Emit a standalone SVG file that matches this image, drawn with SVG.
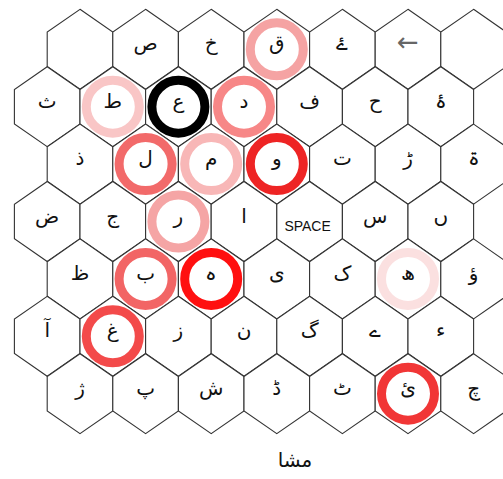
<svg xmlns="http://www.w3.org/2000/svg" xmlns:xlink="http://www.w3.org/1999/xlink" width="503" height="479" viewBox="0 0 503 479">
<style>
.hex{fill:#fff;stroke:#333;stroke-width:1.1}
.ring{fill:none;stroke-width:9}
.t{font-family:"DejaVu Sans",sans-serif;font-size:20px;fill:#111;text-anchor:middle}
.sp{font-family:"Liberation Sans",Arial,sans-serif;font-size:14px;fill:#111;text-anchor:middle}
.arr{font-family:"DejaVu Sans",sans-serif;font-size:26px;fill:#666;text-anchor:middle}
</style>
<defs>
<path id="hex" class="hex" d="M0,-40 L32.8,-17.2 L32.8,17.2 L0,40 L-32.8,17.2 L-32.8,-17.2 Z"/>
</defs>
<rect width="503" height="479" fill="#fff"/>
<!-- row 0 -->
<g id="n00" transform="translate(80,49.3)"><use href="#hex"/></g>
<g id="n01" transform="translate(145.6,49.3)"><use href="#hex"/><text class="t" y="1">ص</text></g>
<g id="n02" transform="translate(211.2,49.3)"><use href="#hex"/><text class="t" y="1">خ</text></g>
<g id="n03" transform="translate(276.8,49.3)"><use href="#hex"/><circle class="ring" r="26.5" stroke="#f5a3a3"/><text class="t" y="1">ق</text></g>
<g id="n04" transform="translate(342.4,49.3)"><use href="#hex"/><text class="t" y="1">ۓ</text></g>
<g id="n05" transform="translate(408,49.3)"><use href="#hex"/><text class="arr" y="2">←</text></g>
<g id="n06" transform="translate(473.6,49.3)"><use href="#hex"/></g>
<!-- row 1 -->
<g id="n10" transform="translate(47.2,106.7)"><use href="#hex"/><text class="t" y="1">ث</text></g>
<g id="n11" transform="translate(112.8,106.7)"><use href="#hex"/><circle class="ring" r="26.5" stroke="#f9c6c6"/><text class="t" y="1">ط</text></g>
<g id="n12" transform="translate(178.4,106.7)"><use href="#hex"/><circle class="ring" r="26.5" stroke="#000"/><text class="t" y="1">ع</text></g>
<g id="n13" transform="translate(244,106.7)"><use href="#hex"/><circle class="ring" r="26.5" stroke="#f78787"/><text class="t" y="1">د</text></g>
<g id="n14" transform="translate(309.6,106.7)"><use href="#hex"/><text class="t" y="1">ف</text></g>
<g id="n15" transform="translate(375.2,106.7)"><use href="#hex"/><text class="t" y="1">ح</text></g>
<g id="n16" transform="translate(440.8,106.7)"><use href="#hex"/><text class="t" y="1">ۂ</text></g>
<!-- row 2 -->
<g id="n20" transform="translate(80,164.1)"><use href="#hex"/><text class="t" y="1">ذ</text></g>
<g id="n21" transform="translate(145.6,164.1)"><use href="#hex"/><circle class="ring" r="26.5" stroke="#f26a6a"/><text class="t" y="1">ل</text></g>
<g id="n22" transform="translate(211.2,164.1)"><use href="#hex"/><circle class="ring" r="26.5" stroke="#f8b7b7"/><text class="t" y="1">م</text></g>
<g id="n23" transform="translate(276.8,164.1)"><use href="#hex"/><circle class="ring" r="26.5" stroke="#ee2424"/><text class="t" y="1">و</text></g>
<g id="n24" transform="translate(342.4,164.1)"><use href="#hex"/><text class="t" y="1">ت</text></g>
<g id="n25" transform="translate(408,164.1)"><use href="#hex"/><text class="t" y="1">ڑ</text></g>
<g id="n26" transform="translate(473.6,164.1)"><use href="#hex"/><text class="t" y="1">ۃ</text></g>
<!-- row 3 -->
<g id="n30" transform="translate(47.2,221.5)"><use href="#hex"/><text class="t" y="1">ض</text></g>
<g id="n31" transform="translate(112.8,221.5)"><use href="#hex"/><text class="t" y="1">ج</text></g>
<g id="n32" transform="translate(178.4,221.5)"><use href="#hex"/><circle class="ring" r="26.5" stroke="#f5a5a5"/><text class="t" y="1">ر</text></g>
<g id="n33" transform="translate(244,221.5)"><use href="#hex"/><text class="t" y="1">ا</text></g>
<g id="n34" transform="translate(309.6,221.5)"><use href="#hex"/><text class="sp" x="-2" y="9">SPACE</text></g>
<g id="n35" transform="translate(375.2,221.5)"><use href="#hex"/><text class="t" y="1">س</text></g>
<g id="n36" transform="translate(440.8,221.5)"><use href="#hex"/><text class="t" y="1">ں</text></g>
<!-- row 4 -->
<g id="n40" transform="translate(80,278.9)"><use href="#hex"/><text class="t" y="1">ظ</text></g>
<g id="n41" transform="translate(145.6,278.9)"><use href="#hex"/><circle class="ring" r="26.5" stroke="#f26565"/><text class="t" y="1">ب</text></g>
<g id="n42" transform="translate(211.2,278.9)"><use href="#hex"/><circle class="ring" r="26.5" stroke="#ff1010"/><text class="t" y="1">ہ</text></g>
<g id="n43" transform="translate(276.8,278.9)"><use href="#hex"/><text class="t" y="1">ی</text></g>
<g id="n44" transform="translate(342.4,278.9)"><use href="#hex"/><text class="t" y="1">ک</text></g>
<g id="n45" transform="translate(408,278.9)"><use href="#hex"/><circle class="ring" r="26.5" stroke="#fbe0e0"/><text class="t" y="1">ھ</text></g>
<g id="n46" transform="translate(473.6,278.9)"><use href="#hex"/><text class="t" y="1">ؤ</text></g>
<!-- row 5 -->
<g id="n50" transform="translate(47.2,336.3)"><use href="#hex"/><text class="t" y="1">آ</text></g>
<g id="n51" transform="translate(112.8,336.3)"><use href="#hex"/><circle class="ring" r="26.5" stroke="#f34a4a"/><text class="t" y="1">غ</text></g>
<g id="n52" transform="translate(178.4,336.3)"><use href="#hex"/><text class="t" y="1">ز</text></g>
<g id="n53" transform="translate(244,336.3)"><use href="#hex"/><text class="t" y="1">ن</text></g>
<g id="n54" transform="translate(309.6,336.3)"><use href="#hex"/><text class="t" y="1">گ</text></g>
<g id="n55" transform="translate(375.2,336.3)"><use href="#hex"/><text class="t" y="1">ے</text></g>
<g id="n56" transform="translate(440.8,336.3)"><use href="#hex"/><text class="t" y="1">ء</text></g>
<!-- row 6 -->
<g id="n60" transform="translate(80,393.7)"><use href="#hex"/><text class="t" y="1">ژ</text></g>
<g id="n61" transform="translate(145.6,393.7)"><use href="#hex"/><text class="t" y="1">پ</text></g>
<g id="n62" transform="translate(211.2,393.7)"><use href="#hex"/><text class="t" y="1">ش</text></g>
<g id="n63" transform="translate(276.8,393.7)"><use href="#hex"/><text class="t" y="1">ڈ</text></g>
<g id="n64" transform="translate(342.4,393.7)"><use href="#hex"/><text class="t" y="1">ٹ</text></g>
<g id="n65" transform="translate(408,393.7)"><use href="#hex"/><circle class="ring" r="26.5" stroke="#f13636"/><text class="t" y="1">ئ</text></g>
<g id="n66" transform="translate(473.6,393.7)"><use href="#hex"/><text class="t" y="1">چ</text></g>
<g id="caption"><text class="t" x="295" y="467" font-size="22">مشا</text></g>
</svg>
